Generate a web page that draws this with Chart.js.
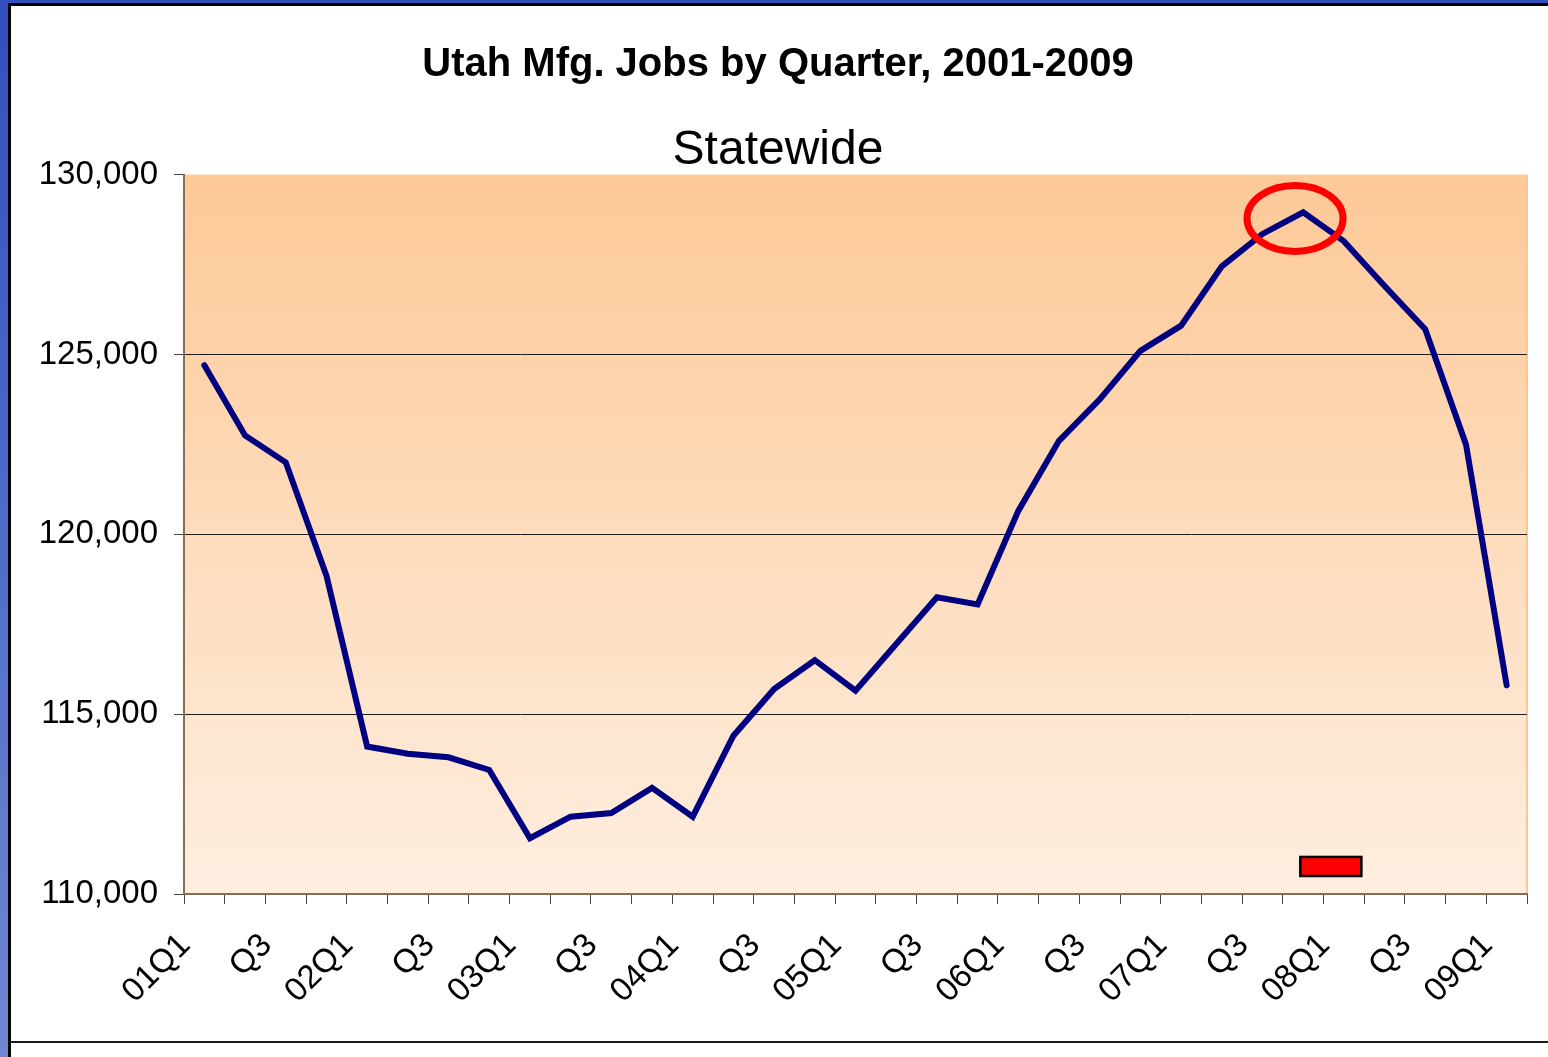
<!DOCTYPE html>
<html>
<head>
<meta charset="utf-8">
<script src="https://cdn.jsdelivr.net/npm/chart.js@4/dist/chart.umd.min.js"></script>
<style>
    html, body { margin: 0; padding: 0; }
    body {
        width: 1548px;
        height: 1057px;
        position: relative;
        overflow: hidden;
        background: linear-gradient(to bottom, #2f50bd, #6f87d2);
    }
    #frame {
        position: absolute;
        left: 8px; top: 3px; right: 0; bottom: 0;
        background: #fff;
        border-left: 3px solid #000;
        border-top: 3px solid #000;
    }
    #bottomLine {
        position: absolute;
        left: 11px; right: 0; top: 1041px;
        height: 2px;
        background: #1a1a1a;
    }
    #chartBox {
        position: absolute;
        left: 11px; top: 6px;
        width: 1537px; height: 1035px;
    }
</style>
</head>
<body>
<div id="frame"></div>
<div id="chartBox"><canvas id="jobsChart"></canvas></div>
<div id="bottomLine"></div>

<script>
/* ---------- Data ---------- */
const quarters = [
    "01Q1", "01Q2", "01Q3", "01Q4",
    "02Q1", "02Q2", "02Q3", "02Q4",
    "03Q1", "03Q2", "03Q3", "03Q4",
    "04Q1", "04Q2", "04Q3", "04Q4",
    "05Q1", "05Q2", "05Q3", "05Q4",
    "06Q1", "06Q2", "06Q3", "06Q4",
    "07Q1", "07Q2", "07Q3", "07Q4",
    "08Q1", "08Q2", "08Q3", "08Q4",
    "09Q1"
];

const tickLabels = [
    "01Q1", "", "Q3", "",
    "02Q1", "", "Q3", "",
    "03Q1", "", "Q3", "",
    "04Q1", "", "Q3", "",
    "05Q1", "", "Q3", "",
    "06Q1", "", "Q3", "",
    "07Q1", "", "Q3", "",
    "08Q1", "", "Q3", "",
    "09Q1"
];

const mfgJobs = [
    124700, 122750, 122000, 118850,
    114100, 113900, 113800, 113450,
    111550, 112150, 112250, 112950,
    112150, 114400, 115700, 116500,
    115650, 116950, 118250, 118050,
    120650, 122600, 123750, 125100,
    125800, 127450, 128350, 128950,
    128150, 126900, 125700, 122500,
    115800
];

// highlight marks, in category index / job units
const peakMark = { x: 26.8, y: 128780, rx: 1.18, ry: 915 };
const recessionMark = { x0: 26.93, x1: 28.43, y0: 110500, y1: 111030 };

const FONT = "'Liberation Sans', Arial, sans-serif";

/* ---------- Plugins ---------- */
const plotBackground = {
    id: "plotBackground",
    beforeDraw(chart) {
        const { ctx, chartArea: a } = chart;
        const g = ctx.createLinearGradient(0, a.top, 0, a.bottom);
        g.addColorStop(0, "#fdc997");
        g.addColorStop(1, "#feeee0");
        ctx.save();
        ctx.fillStyle = g;
        ctx.fillRect(a.left, a.top, a.right - a.left, a.bottom - a.top);
        ctx.strokeStyle = "#fcc690";
        ctx.lineWidth = 2;
        ctx.beginPath();
        ctx.moveTo(a.right, a.top);
        ctx.lineTo(a.right, a.bottom);
        ctx.stroke();
        ctx.restore();
    }
};

const highlights = {
    id: "highlights",
    afterDatasetsDraw(chart) {
        const { ctx, scales: { x, y } } = chart;
        ctx.save();

        // red ring round the peak
        const cx = x.getPixelForValue(peakMark.x);
        const cy = y.getPixelForValue(peakMark.y);
        const rx = x.getPixelForValue(peakMark.x + peakMark.rx) - cx;
        const ry = cy - y.getPixelForValue(peakMark.y + peakMark.ry);
        ctx.beginPath();
        ctx.ellipse(cx, cy, rx, ry, 0, 0, Math.PI * 2);
        ctx.strokeStyle = "#ff0000";
        ctx.lineWidth = 7;
        ctx.stroke();

        // small red box
        const bx0 = x.getPixelForValue(recessionMark.x0);
        const bx1 = x.getPixelForValue(recessionMark.x1);
        const by0 = y.getPixelForValue(recessionMark.y1);
        const by1 = y.getPixelForValue(recessionMark.y0);
        ctx.fillStyle = "#ff0000";
        ctx.fillRect(bx0, by0, bx1 - bx0, by1 - by0);
        ctx.strokeStyle = "#000";
        ctx.lineWidth = 2.5;
        ctx.strokeRect(bx0, by0, bx1 - bx0, by1 - by0);

        ctx.restore();
    }
};

/* ---------- Chart ---------- */
new Chart(document.getElementById("jobsChart"), {
    type: "line",
    data: {
        labels: quarters,
        datasets: [{
            label: "Mfg. Jobs",
            data: mfgJobs,
            borderColor: "#000080",
            borderWidth: 6,
            pointRadius: 0,
            tension: 0,
            borderCapStyle: "round",
            borderJoinStyle: "miter"
        }]
    },
    options: {
        responsive: true,
        maintainAspectRatio: false,
        animation: false,
        layout: { padding: { left: 18, right: 21, top: 0, bottom: 0 } },
        plugins: {
            legend: { display: false },
            tooltip: { enabled: false },
            title: {
                display: true,
                text: "Utah Mfg. Jobs by Quarter, 2001-2009",
                color: "#000",
                font: { family: FONT, size: 40, weight: "bold", lineHeight: 1.2 },
                padding: { top: 35, bottom: 37.6 }
            },
            subtitle: {
                display: true,
                text: "Statewide",
                color: "#000",
                font: { family: FONT, size: 48, weight: "normal", lineHeight: 1.0 },
                padding: { top: 0, bottom: 0 }
            }
        },
        scales: {
            x: {
                offset: true,
                afterFit(scale) {
                    scale.height = 147;
                    scale.paddingLeft = 0;
                    scale.paddingRight = 0;
                },
                grid: {
                    offset: true,
                    drawOnChartArea: false,
                    drawTicks: true,
                    tickLength: 10,
                    tickColor: "#444"
                },
                border: { color: "#8a6d50", width: 2 },
                ticks: {
                    autoSkip: false,
                    maxRotation: 45,
                    minRotation: 45,
                    padding: 22,
                    labelOffset: -19,
                    color: "#000",
                    font: { family: FONT, size: 33 },
                    callback: (v, i) => tickLabels[i]
                }
            },
            y: {
                min: 110000,
                max: 130000,
                afterFit(scale) { scale.width = 155; },
                grid: {
                    color: ctx => (ctx.tick && ctx.tick.value === 130000) ? "rgba(0,0,0,0)" : "#1e1e1e",
                    lineWidth: 1,
                    drawTicks: true,
                    tickLength: 10,
                    tickColor: "#444"
                },
                border: { color: "#8a6d50", width: 2 },
                ticks: {
                    stepSize: 5000,
                    padding: 16,
                    color: "#000",
                    font: { family: FONT, size: 33 },
                    callback: v => v.toLocaleString("en-US")
                }
            }
        }
    },
    plugins: [plotBackground, highlights]
});
</script>
</body>
</html>
